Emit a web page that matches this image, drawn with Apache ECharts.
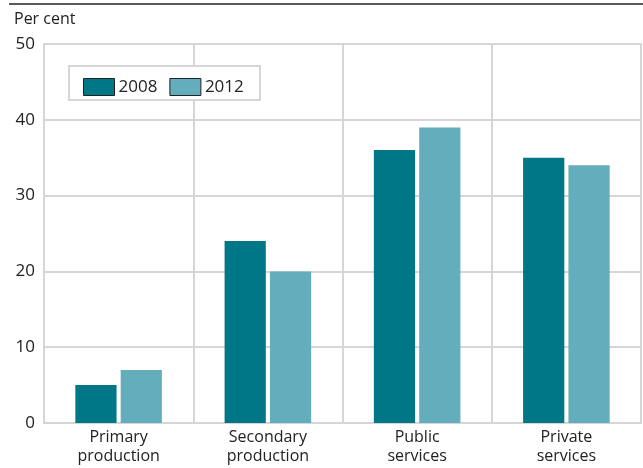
<!DOCTYPE html>
<html>
<head>
<meta charset="utf-8">
<script src="https://cdn.jsdelivr.net/npm/echarts@6/dist/echarts.min.js"></script>
<style>
  html, body { margin: 0; padding: 0; background: #fff; }
  #main { width: 643px; height: 468px; }
</style>
</head>
<body>
<div id="main"></div>
<script>
var categories = ['Primary\nproduction', 'Secondary\nproduction', 'Public\nservices', 'Private\nservices'];
var values2008 = [5, 24, 36, 35];
var values2012 = [7, 20, 39, 34];
var yTicks = [0, 10, 20, 30, 40, 50];

var gridColor = '#d6d6d6';
var font = '"Open Sans", "Noto Sans", sans-serif';

var myChart = echarts.init(document.getElementById('main'));
var option = {
  animation: false,
  textStyle: { fontFamily: font },
  grid: {
    left: 44, right: 2, top: 44, bottom: 45,
    show: true, borderColor: gridColor, borderWidth: 2
  },
  graphic: [
    {
      type: 'line',
      shape: { x1: 9, y1: 4, x2: 643, y2: 4 },
      style: { stroke: '#222', lineWidth: 1.5 }
    },
    {
      type: 'text', left: 14, top: 11,
      style: { text: 'Per cent', fontSize: 16, fill: '#222', fontFamily: font }
    },
    {
      type: 'rect',
      shape: { x: 69, y: 66, width: 191, height: 34 },
      style: { fill: '#fff', stroke: gridColor, lineWidth: 2 },
      z: 10
    }
  ],
  legend: {
    left: 78, top: 73,
    itemWidth: 31, itemHeight: 17,
    itemGap: 12,
    icon: 'rect',
    textStyle: { fontSize: 17, color: '#222', fontFamily: font, padding: [0, 0, 0, -1] },
    itemStyle: { borderColor: '#222', borderWidth: 1 },
    z: 20,
    data: ['2008', '2012']
  },
  xAxis: {
    type: 'category',
    data: categories,
    axisLine: { show: true, lineStyle: { color: gridColor, width: 2 } },
    axisTick: { show: false },
    splitLine: { show: true, lineStyle: { color: gridColor, width: 2 } },
    axisLabel: { fontSize: 16, color: '#222', lineHeight: 19, margin: 5, fontFamily: font }
  },
  yAxis: {
    type: 'value',
    min: yTicks[0], max: yTicks[yTicks.length - 1], interval: 10,
    axisLine: { show: true, lineStyle: { color: gridColor, width: 2 } },
    axisTick: { show: false },
    splitLine: { show: true, lineStyle: { color: gridColor, width: 2 } },
    axisLabel: { fontSize: 17, color: '#222', margin: 9, fontFamily: font }
  },
  series: [
    {
      name: '2008', type: 'bar', data: values2008,
      itemStyle: { color: '#007787' },
      barGap: '10%', barCategoryGap: '42%'
    },
    {
      name: '2012', type: 'bar', data: values2012,
      itemStyle: { color: '#63adbc' }
    }
  ]
};
myChart.setOption(option);
</script>
</body>
</html>
